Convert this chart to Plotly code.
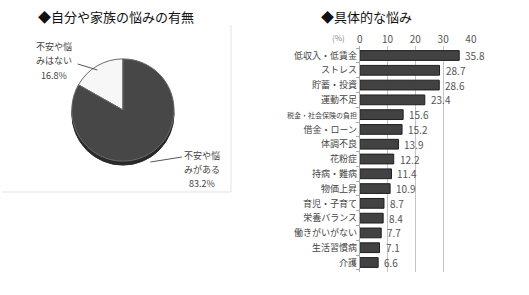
import plotly.graph_objects as go

# ---- data ----
pie_labels = ["不安や悩みはない", "不安や悩みがある"]
pie_values = [16.8, 83.2]
pie_label_lines = [["不安や悩", "みはない"], ["不安や悩", "みがある"]]

bar_categories = ["低収入・低賃金", "ストレス", "貯蓄・投資", "運動不足", "税金・社会保険の負担",
                  "借金・ローン", "体調不良", "花粉症", "持病・難病", "物価上昇",
                  "育児・子育て", "栄養バランス", "働きがいがない", "生活習慣病", "介護"]
bar_values = [35.8, 28.7, 28.6, 23.4, 15.6, 15.2, 13.9, 12.2, 11.4, 10.9, 8.7, 8.4, 7.7, 7.1, 6.6]
x_ticks = [0, 10, 20, 30, 40]

FONT = "Noto Sans CJK JP"
W, H = 529, 295

def px(x):
    return x / W

def py(y):
    return 1 - y / H

fig = go.Figure()

# pie shadow (3D depth)
fig.add_trace(go.Pie(values=[1], labels=["shadow"], sort=False,
                     marker=dict(colors=["#2a2a2a"], line=dict(color="#2a2a2a", width=1)),
                     textinfo="none", hoverinfo="skip", showlegend=False,
                     domain=dict(x=[px(70), px(174)], y=[py(166), py(62)])))
# pie
fig.add_trace(go.Pie(values=pie_values, labels=pie_labels, sort=False,
                     direction="clockwise", rotation=-60.48,
                     marker=dict(colors=["#f7f7f7", "#474747"], line=dict(color="#6a6a6a", width=1)),
                     textinfo="none", showlegend=False,
                     domain=dict(x=[px(70), px(174)], y=[py(162), py(58)])))

# bars
tick_text = [("<span style='font-size:7px'>%s</span>" % c) if len(c) > 8 else c for c in bar_categories]
fig.add_trace(go.Bar(x=bar_values, y=bar_categories, orientation="h",
                     marker=dict(color="#424242", line=dict(color="#1e1e1e", width=1)),
                     width=0.66, showlegend=False, xaxis="x", yaxis="y"))

# value labels next to bars
for c, v in zip(bar_categories, bar_values):
    fig.add_annotation(text=f"{v:.1f}", x=v, y=c, xref="x", yref="y",
                       xanchor="left", yanchor="middle", xshift=4, showarrow=False,
                       font=dict(size=10, color="#555555", family=FONT))

fig.update_layout(
    width=W, height=H, margin=dict(l=0, r=0, t=0, b=0),
    paper_bgcolor="white", plot_bgcolor="white",
    font=dict(family=FONT, color="#333333"),
    xaxis=dict(domain=[px(363), px(476)], range=[0, 40], side="top",
               tickvals=x_ticks, ticktext=[str(t) for t in x_ticks],
               showgrid=True, gridcolor="#c4c4c4", gridwidth=1,
               zeroline=False, showline=False, ticks="",
               tickfont=dict(size=10, color="#555555", family=FONT)),
    yaxis=dict(domain=[py(272), py(46)], autorange="reversed",
               tickvals=bar_categories, ticktext=tick_text,
               showline=True, linecolor="#aaaaaa", linewidth=1,
               ticks="outside", tickson="boundaries", ticklen=3, tickcolor="#aaaaaa",
               tickfont=dict(size=9, color="#444444", family=FONT)),
)

# box around left chart (right and bottom edges visible)
fig.add_shape(type="line", xref="paper", yref="paper",
              x0=px(232), x1=px(232), y0=py(192), y1=py(25),
              line=dict(color="#e3e3e3", width=1), layer="below")
fig.add_shape(type="line", xref="paper", yref="paper",
              x0=px(0), x1=px(232), y0=py(192), y1=py(192),
              line=dict(color="#e3e3e3", width=1), layer="below")

# titles
fig.add_annotation(text="◆自分や家族の悩みの有無", x=px(34), y=py(17), xref="paper", yref="paper",
                   xanchor="left", yanchor="middle", showarrow=False,
                   font=dict(size=13, color="#111111", family=FONT))
fig.add_annotation(text="◆具体的な悩み", x=px(321), y=py(17), xref="paper", yref="paper",
                   xanchor="left", yanchor="middle", showarrow=False,
                   font=dict(size=13, color="#111111", family=FONT))
fig.add_annotation(text="(%)", x=px(341), y=py(37), xref="paper", yref="paper",
                   xanchor="center", yanchor="middle", showarrow=False,
                   font=dict(size=8, color="#888888", family=FONT))

# pie labels: separate lines
label_specs = [
    (52, [47, 61, 75], (76, 64), (96, 70)),
    (202, [155, 169, 183], (182, 157), (150, 162)),
]
for i, (cx, ys, p0, p1) in enumerate(label_specs):
    lines = pie_label_lines[i] + ["%.1f%%" % pie_values[i]]
    for t, yy in zip(lines, ys):
        fig.add_annotation(text=t, x=px(cx), y=py(yy), xref="paper", yref="paper",
                           xanchor="center", yanchor="middle", showarrow=False,
                           font=dict(size=9, color="#444444", family=FONT))
    fig.add_shape(type="line", xref="paper", yref="paper",
                  x0=px(p0[0]), y0=py(p0[1]), x1=px(p1[0]), y1=py(p1[1]),
                  line=dict(color="#555555", width=1))

fig.write_html("out.html")
